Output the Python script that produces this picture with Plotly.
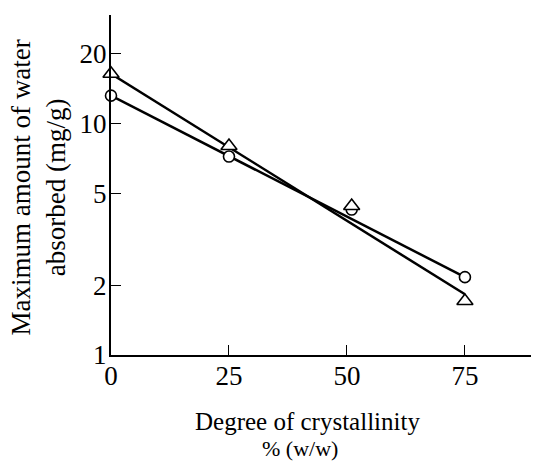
import plotly.graph_objects as go

# Data
crystallinity = [0, 25, 51, 75]
circle_vals = [13.2, 7.2, 4.25, 2.17]
triangle_vals = [16.4, 8.0, 4.4, 1.71]

fit_x = [0, 75]
circle_fit = [13.2, 2.17]
triangle_fit = [16.4, 1.83]

x_ticks = [0, 25, 50, 75]
y_ticks = [1, 2, 5, 10, 20]

y_title = "Maximum amount of water<br>absorbed (mg/g)"
x_title_1 = "Degree of crystallinity"
x_title_2 = "% (w/w)"

FONT = "Liberation Serif, Times New Roman, serif"

fig = go.Figure()
fig.add_trace(go.Scatter(x=fit_x, y=triangle_fit, mode="lines", cliponaxis=False,
                         line=dict(color="black", width=2.5), showlegend=False))
fig.add_trace(go.Scatter(x=fit_x, y=circle_fit, mode="lines", cliponaxis=False,
                         line=dict(color="black", width=2.5), showlegend=False))
fig.add_trace(go.Scatter(x=crystallinity, y=circle_vals, mode="markers", cliponaxis=False,
                         marker=dict(symbol="circle", size=11, color="white",
                                     line=dict(color="black", width=1.6)),
                         showlegend=False))
fig.add_trace(go.Scatter(x=crystallinity, y=triangle_vals, mode="markers", cliponaxis=False,
                         marker=dict(symbol="triangle-up", size=14, color="white",
                                     line=dict(color="black", width=1.6)),
                         showlegend=False))

PW, PH = 420, 340  # plot area size in px

fig.update_layout(
    width=534, height=461,
    margin=dict(l=111, r=3, t=15, b=106),
    plot_bgcolor="white", paper_bgcolor="white",
    font=dict(family=FONT, color="black"),
    xaxis=dict(range=[0, 89], tickvals=x_ticks, ticktext=[str(v) for v in x_ticks],
               ticks="inside", ticklen=10, tickwidth=1.2, tickcolor="black",
               showline=True, linecolor="black", linewidth=2,
               showgrid=False, zeroline=False, ticklabelstandoff=-4,
               tickfont=dict(size=27, family=FONT)),
    yaxis=dict(type="log", range=[0, 1.469], tickvals=y_ticks,
               ticktext=[str(v) for v in y_ticks],
               ticks="inside", ticklen=10, tickwidth=1.2, tickcolor="black",
               showline=True, linecolor="black", linewidth=2,
               showgrid=False, zeroline=False, ticklabelstandoff=-3,
               tickfont=dict(size=27, family=FONT)),
    annotations=[
        dict(text=y_title, textangle=-90,
             xref="paper", yref="paper", x=(37.5 - 111) / PW, y=(355 - 188) / PH,
             xanchor="center", yanchor="middle", showarrow=False,
             font=dict(size=27, family=FONT)),
        dict(text=x_title_1, borderpad=0,
             xref="paper", yref="paper", x=(307 - 111) / PW, y=(355 - 421) / PH,
             xanchor="center", yanchor="middle", showarrow=False,
             font=dict(size=25, family=FONT)),
        dict(text=x_title_2, borderpad=0,
             xref="paper", yref="paper", x=(300 - 111) / PW, y=(355 - 448) / PH,
             xanchor="center", yanchor="middle", showarrow=False,
             font=dict(size=22, family=FONT)),
    ],
)

fig.write_html("out.html")
